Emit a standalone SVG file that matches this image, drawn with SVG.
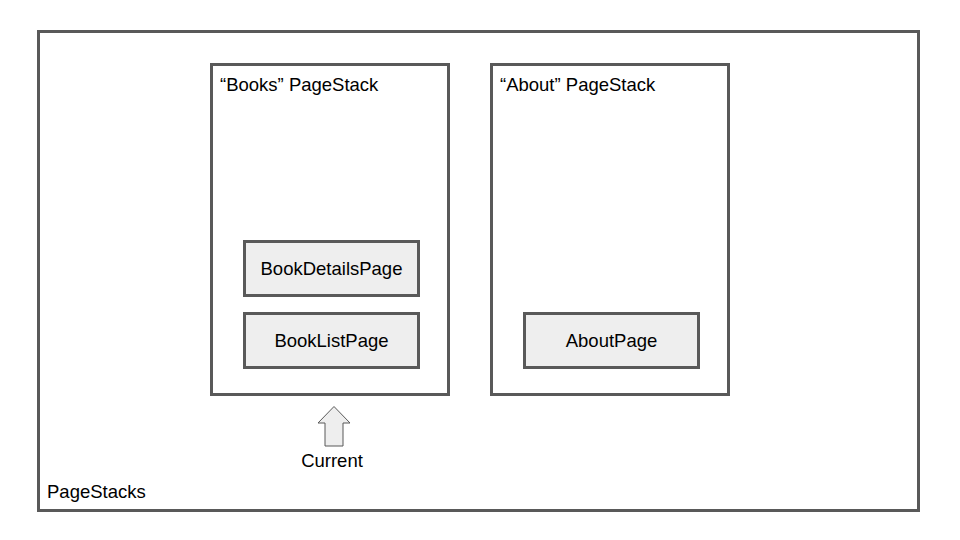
<svg xmlns="http://www.w3.org/2000/svg" width="960" height="540" viewBox="0 0 960 540">
<style>
.frame{fill:#ffffff;stroke:#595959;stroke-width:3}
.page{fill:#eeeeee;stroke:#595959;stroke-width:3}
text{font-family:"Liberation Sans",Arial,sans-serif;font-size:18.5px;fill:#000000}
.c{text-anchor:middle}
</style>
<rect width="960" height="540" fill="#ffffff"/>
<g id="pagestacks">
<rect class="frame" x="38.5" y="31.5" width="880" height="479"/>
<text x="47" y="498">PageStacks</text>
</g>
<g id="books-stack">
<rect class="frame" x="211.5" y="64.5" width="237" height="330"/>
<text x="220" y="91">“Books” PageStack</text>
</g>
<g id="about-stack">
<rect class="frame" x="491.5" y="64.5" width="237" height="330"/>
<text x="500" y="91">“About” PageStack</text>
</g>
<g id="book-details-page">
<rect class="page" x="244.5" y="241.5" width="174" height="54"/>
<text class="c" x="331.5" y="275">BookDetailsPage</text>
</g>
<g id="book-list-page">
<rect class="page" x="244.5" y="313.5" width="174" height="54"/>
<text class="c" x="331.5" y="347">BookListPage</text>
</g>
<g id="about-page">
<rect class="page" x="524.5" y="313.5" width="174" height="54"/>
<text class="c" x="611.5" y="347">AboutPage</text>
</g>
<g id="connectors">
<path d="M334 406.5 L350 423 L343 423 L343 446 L325 446 L325 423 L318 423 Z" fill="#eeeeee" stroke="#595959" stroke-width="1"/>
</g>
<g id="current">
<text class="c" x="332" y="467">Current</text>
</g>
</svg>
